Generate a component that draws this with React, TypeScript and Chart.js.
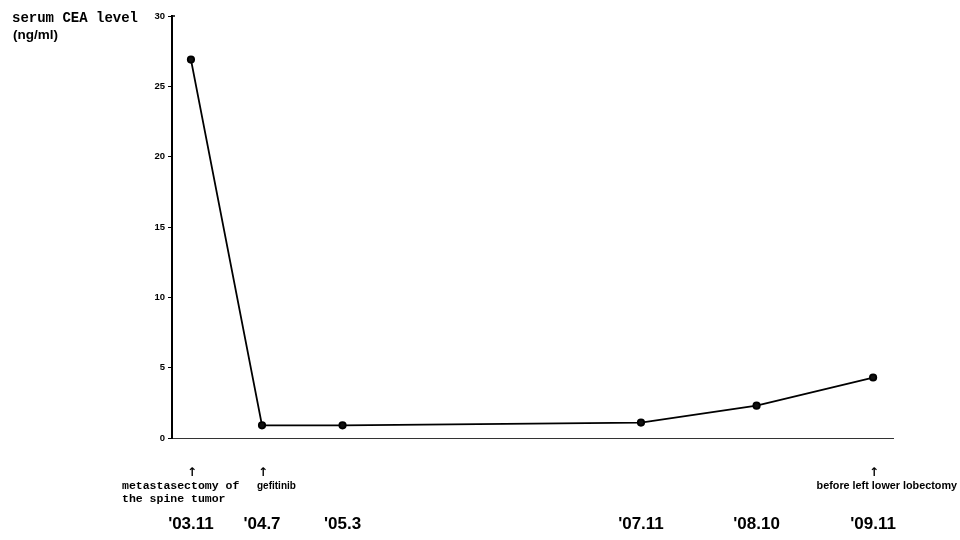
import React, { useEffect, useRef } from "react";
import { Chart, registerables } from "chart.js";

Chart.register(...registerables);

// Data
const dateLabels = ["'03.11", "'04.7", "'05.3", "'07.11", "'08.10", "'09.11"];
const monthPos = [0, 7.5, 16, 47.5, 59.7, 72]; // months since '03.11 (as drawn)
const ceaValues = [26.9, 0.9, 0.9, 1.1, 2.3, 4.3];
const yTickValues = [0, 5, 10, 15, 20, 25, 30];
const annotationIndex = [0, 1, 5];
const annotationLines = [["metastasectomy of", "the spine tumor"], ["gefitinib"], ["before left lower lobectomy"]];
const yTitleLines = ["serum CEA level", "(ng/ml)"];

const textPlugin = {
  id: "textPlugin",
  afterDraw(chart: any) {
    const ctx = chart.ctx;
    const xs = chart.scales.x;
    const ys = chart.scales.y;
    ctx.save();
    ctx.fillStyle = "#000";
    ctx.strokeStyle = "#000";
    // small stub at top of y axis
    const yTop = ys.getPixelForValue(30);
    ctx.lineWidth = 1.5;
    ctx.beginPath();
    ctx.moveTo(ys.right, yTop);
    ctx.lineTo(ys.right + 3, yTop);
    ctx.stroke();

    // y title
    ctx.textBaseline = "alphabetic";
    ctx.textAlign = "left";
    ctx.font = "bold 14px 'Liberation Mono', 'Courier New', monospace";
    ctx.fillText(yTitleLines[0], 12, 22);
    ctx.font = "bold 13.5px 'Liberation Sans', Arial, sans-serif";
    ctx.fillText(yTitleLines[1], 13, 39);

    // annotations
    annotationIndex.forEach((idx, k) => {
      const px = xs.getPixelForValue(monthPos[idx]);
      ctx.font = "bold 12px 'DejaVu Sans', sans-serif";
      ctx.textAlign = "center";
      ctx.fillText("↑", px + 1, 476);
      const lines = annotationLines[k];
      if (k === 0) {
        ctx.font = "bold 11.5px 'Liberation Mono', 'Courier New', monospace";
        ctx.textAlign = "left";
        lines.forEach((l, i) => ctx.fillText(l, 122, 489 + i * 13));
      } else if (k === 1) {
        ctx.font = "bold 10px 'Liberation Sans', Arial, sans-serif";
        ctx.textAlign = "left";
        lines.forEach((l, i) => ctx.fillText(l, px - 5, 489 + i * 13));
      } else {
        ctx.font = "bold 10.8px 'Liberation Sans', Arial, sans-serif";
        ctx.textAlign = "right";
        lines.forEach((l, i) => ctx.fillText(l, 957, 489 + i * 13));
      }
    });

    // date labels
    ctx.font = "bold 17px 'Liberation Sans', Arial, sans-serif";
    ctx.textAlign = "center";
    ctx.textBaseline = "middle";
    dateLabels.forEach((lab, i) => {
      const px = xs.getPixelForValue(monthPos[i]);
      ctx.fillText(lab, px, 524);
    });
    ctx.restore();
  },
};

export default function App() {
  const ref = useRef<HTMLCanvasElement>(null);
  useEffect(() => {
    document.body.style.margin = "0";
    const canvas = ref.current!;
    const chart = new Chart(canvas, {
      type: "line",
      data: {
        datasets: [
          {
            data: monthPos.map((m, i) => ({ x: m, y: ceaValues[i] })),
            borderColor: "#000",
            backgroundColor: "#000",
            borderWidth: 1.8,
            pointRadius: 3.2,
            pointBackgroundColor: "#111",
            pointBorderColor: "#000",
            tension: 0,
          },
        ],
      },
      options: {
        responsive: false,
        animation: false,
        devicePixelRatio: 1,
        layout: { padding: { top: 16, right: 67, left: 0, bottom: 0 } },
        plugins: { legend: { display: false }, tooltip: { enabled: false } },
        scales: {
          x: {
            type: "linear",
            min: -2,
            max: 74.1,
            grid: { display: false, drawTicks: false },
            ticks: { display: false },
            border: { display: true, color: "#333", width: 1 },
            afterFit: (s: any) => {
              s.height = 102;
            },
          },
          y: {
            min: 0,
            max: 30,
            afterBuildTicks: (s: any) => {
              s.ticks = yTickValues.map((v) => ({ value: v }));
            },
            ticks: {
              color: "#000",
              font: { family: "'Liberation Sans', Arial, sans-serif", size: 9.5, weight: "bold" },
              padding: 3,
            },
            grid: { drawOnChartArea: false, drawTicks: true, tickLength: 4, color: "#000", lineWidth: 1 },
            border: { display: true, color: "#000", width: 2 },
            afterFit: (s: any) => {
              s.width = 172;
            },
          },
        },
      },
      plugins: [textPlugin],
    });
    return () => chart.destroy();
  }, []);
  return (
    <div style={{ width: 960, height: 540, background: "#fff" }}>
      <canvas ref={ref} width={960} height={540} />
    </div>
  );
}
